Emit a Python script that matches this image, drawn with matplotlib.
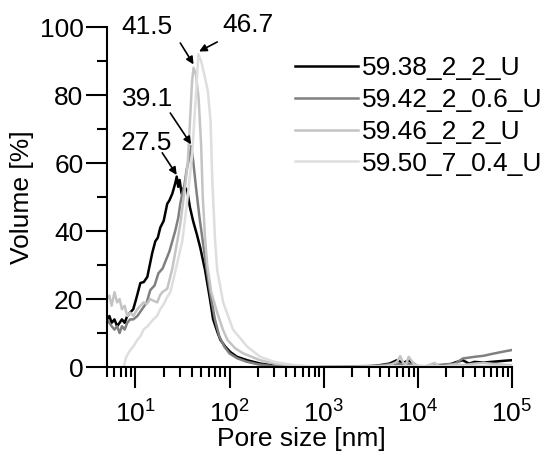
import matplotlib
matplotlib.use("Agg")
import matplotlib.pyplot as plt
from matplotlib import rc
from matplotlib.ticker import LogLocator, NullFormatter

rc('font', family='Liberation Sans', size=19)
rc('mathtext', fontset='custom', rm='Liberation Sans', it='Liberation Sans')
rc('axes', linewidth=1.5)

# series: pore size [nm] and volume [%]
labels = ['59.38_2_2_U', '59.42_2_0.6_U', '59.46_2_2_U', '59.50_7_0.4_U']
colors = ['#000000', '#808080', '#c4c4c4', '#dedede']

size_a = [5.0, 5.3, 5.6, 6.0, 6.4, 6.8, 7.2, 7.7, 8.2, 8.8, 9.5, 10.2, 11.3,
          12.3, 13.4, 15.1, 16.3, 17.3, 18.4, 20.0, 21.8, 23.0, 24.7, 26.5,
          27.5, 28.5, 29.5, 31.0, 33.0, 35.5, 38.0, 41.0, 45.0, 49.0, 55.0,
          62.0, 67.0, 75.0, 80.0, 90.0, 102, 120, 154, 212, 300, 450, 700,
          1000, 2000, 3500, 5000, 6000, 7000, 8000, 9000, 10000, 12000,
          15000, 18000, 22000, 26000, 30000, 35000, 40000, 50000, 60000,
          80000, 100000]
vol_a = [14, 15, 13, 14, 12, 13, 14, 13, 15, 16, 17, 20, 24.7,
         25, 26.5, 33.5, 37, 38, 41, 43, 48, 49, 51, 54,
         56, 53, 55, 51, 53, 52, 47, 43, 39, 35, 28.5,
         20, 14, 10, 8, 6, 4.4, 3, 2, 1, 0.4, 0.1, 0,
         0, 0, 0.3, 1.0, 2.0, 1.2, 2.0, 1.0, 0.2, 0,
         0.3, 0.5, 0.8, 1.5, 2.0, 1.0, 1.5, 1.3, 1.5,
         1.8, 2.0]

size_b = [5.0, 5.3, 5.6, 6.0, 6.4, 6.8, 7.2, 7.7, 8.2, 8.8, 9.5, 10.5, 12.2,
          13.2, 14.4, 16.0, 17.6, 19.5, 21.8, 23.0, 24.7, 26.5, 28.6, 30.0,
          31.5, 33.0, 35.0, 37.0, 39.1, 41.0, 44.0, 48.0, 52.0, 57.0, 63.0,
          70.0, 78.0, 88.0, 100, 120, 150, 200, 280, 400, 600, 1000, 2000,
          3000, 4000, 5000, 6000, 7000, 8000, 9000, 10000, 12000, 15000,
          20000, 25000, 30000, 40000, 50000, 60000, 80000, 100000]
vol_b = [14, 13, 12, 11, 12, 10, 12, 11, 13, 14, 14, 15, 17.6,
         19, 22.6, 24, 27.6, 29, 32.4, 34, 37, 40, 44, 48,
         51, 53, 58, 61, 65, 61, 53, 44, 37, 29, 21,
         14, 9, 6, 4, 2.6, 1.6, 0.8, 0.3, 0.1, 0, 0, 0.2,
         0.3, 0.5, 0.8, 1.0, 0.8, 1.0, 0.6, 0.3, 0.2, 0.5,
         0.8, 1.0, 2.5, 3.0, 3.3, 3.8, 4.5, 5.0]

size_c = [5.0, 5.3, 5.6, 6.0, 6.4, 6.8, 7.2, 7.7, 8.2, 8.8, 9.5, 10.5, 12.2,
          13.2, 14.4, 15.5, 17.1, 18.2, 19.3, 21.8, 24.7, 27.9, 30.0, 32.0,
          34.0, 36.0, 38.5, 40.0, 41.5, 44.0, 47.0, 50.0, 52.0, 55.0, 58.0,
          64.0, 74.0, 85.0, 95.0, 115, 140, 212, 300, 450, 700, 1000, 2000,
          4000, 5000, 6000, 6500, 7000, 7500, 8000, 9000, 10000, 11000,
          13000, 15000, 17000, 20000, 25000, 30000, 40000, 50000, 70000,
          100000]
vol_c = [20, 21, 18, 22, 19, 20, 17, 18, 15, 16, 15, 17, 19,
         18.5, 20, 19.5, 19, 21, 22, 23, 29, 37, 42, 48,
         54, 60, 75, 84, 88, 86, 79, 65, 50, 38, 30,
         22, 16, 11, 8, 5.5, 4, 2, 1, 0.4, 0.1, 0, 0,
         0.2, 0.5, 1.5, 3.2, 1.2, 0.8, 3.0, 1.0, 0.3, 0,
         0.5, 1.2, 0.2, 0.3, 0.8, 0.5, 1.0, 1.2, 0.8,
         0.5]

size_d = [7.5, 8.0, 8.85, 9.5, 10.5, 11.3, 12.2, 13.5, 15.5, 17.0, 18.4,
          20.0, 21.8, 23.5, 25.3, 28.6, 31.5, 35.6, 40.0, 44.0, 46.7, 50.0,
          55.0, 59.0, 63.0, 65.6, 67.2, 70.0, 74.0, 85.7, 109, 154, 212,
          300, 500, 800, 1000, 2000, 5000, 10000, 20000, 100000]
vol_d = [0, 3, 5, 6, 8, 9, 11, 12, 14, 15, 17,
         18.5, 20.6, 22, 25.6, 32, 37, 49, 62, 80, 92, 90,
         85, 81, 72, 55, 49, 38, 28.5, 19, 11, 6, 3,
         1.5, 0.5, 0.2, 0, 0, 0.2, 0.3, 0.2, 0.3]

sizes = [size_a, size_b, size_c, size_d]
vols = [vol_a, vol_b, vol_c, vol_d]

fig = plt.figure(figsize=(5.55, 4.68), dpi=100)
ax = fig.add_axes([0.1928, 0.2158, 0.7297, 0.7265])

for s, v, c, l in zip(sizes, vols, colors, labels):
    ax.plot(s, v, color=c, lw=1.8, label=l)

ax.set_xscale('log')
ax.set_xlim(5, 1e5)
ax.set_ylim(0, 100)
ax.set_yticks([0, 20, 40, 60, 80, 100])
ax.set_yticks([10, 30, 50, 70, 90], minor=True)
ax.xaxis.set_major_locator(LogLocator(base=10, numticks=10))
ax.xaxis.set_minor_locator(LogLocator(base=10, subs=range(2, 10), numticks=20))
ax.xaxis.set_minor_formatter(NullFormatter())

for sp in ['top', 'right']:
    ax.spines[sp].set_visible(False)
ax.tick_params(which='major', length=15, width=1.5, direction='out')
ax.tick_params(which='minor', length=7, width=1.5, direction='out')
ax.tick_params(axis='y', pad=2)
ax.tick_params(axis='x', pad=9)

ax.set_xlabel('Pore size [nm]', labelpad=2)
ax.xaxis.set_label_coords(0.48, -0.175)
ax.set_ylabel('Volume [%]')

arrow = dict(arrowstyle='-|>', color='black', lw=1.2, mutation_scale=11,
             shrinkA=0, shrinkB=0)
ax.text(13.4, 100, '41.5', ha='center', va='center')
ax.annotate('', xy=(41.5, 89), xytext=(30, 95.3), arrowprops=arrow)
ax.text(158, 100.6, '46.7', ha='center', va='center')
ax.annotate('', xy=(47.5, 92.8), xytext=(74, 95.6), arrowprops=arrow)
ax.text(13.4, 78.8, '39.1', ha='center', va='center')
ax.annotate('', xy=(39.1, 65.5), xytext=(23.5, 74.7), arrowprops=arrow)
ax.text(13.1, 65.9, '27.5', ha='center', va='center')
ax.annotate('', xy=(27.5, 56.5), xytext=(19.3, 63), arrowprops=arrow)

ax.legend(loc='upper left', bbox_to_anchor=(0.464, 0.915), frameon=False,
          handlelength=2.4, handletextpad=0.15, labelspacing=0.3,
          borderaxespad=0, borderpad=0)

fig.savefig('out.png', dpi=100)
